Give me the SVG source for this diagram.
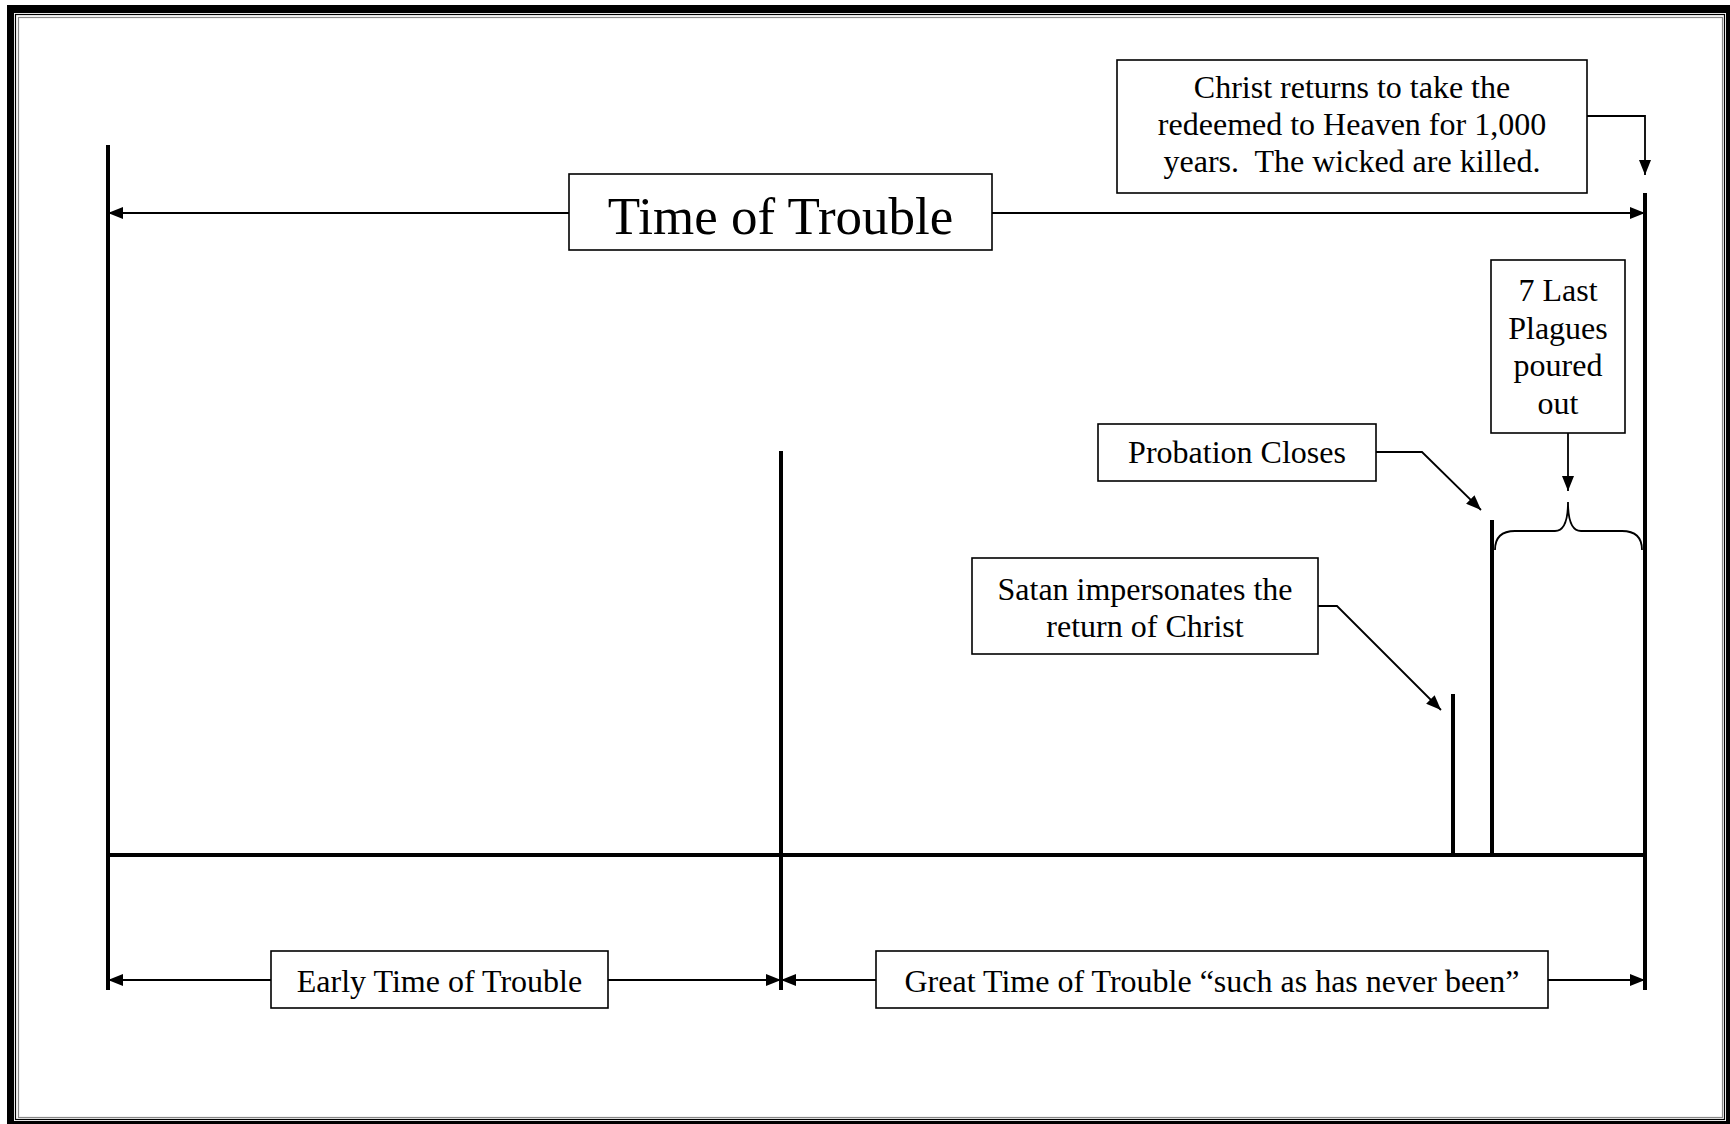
<svg xmlns="http://www.w3.org/2000/svg" width="1730" height="1124" viewBox="0 0 1730 1124">
<style>
.box{fill:#fff;stroke:#000;stroke-width:1.6}
.t{font-family:"Liberation Serif","Times New Roman",serif;font-size:32px;fill:#000;text-anchor:middle}
.big{font-size:53px}
.thick{stroke:#000;stroke-width:4;fill:none}
.thin{stroke:#000;stroke-width:1.8;fill:none}
</style>
<defs>
<marker id="ah" markerUnits="userSpaceOnUse" markerWidth="15" markerHeight="12" refX="15" refY="6" orient="auto-start-reverse">
<path d="M0,0 L15,6 L0,12 z" fill="#000"/>
</marker>
</defs>
<rect width="1730" height="1124" fill="#fff"/>
<g id="frame">
<path d="M7,5 H1730 V1124 H7 Z M14,13 V1121 H1726 V13 Z" fill="#000" fill-rule="evenodd"/>
<rect x="15.5" y="14.5" width="1709" height="1105" fill="none" stroke="#000" stroke-width="1.2"/>
<rect x="18.5" y="17.5" width="1704" height="1100" fill="none" stroke="#888" stroke-width="1.2"/>
</g>
<g id="timeline">
<line class="thick" x1="108" y1="145" x2="108" y2="990"/>
<line class="thick" x1="1645" y1="193" x2="1645" y2="990"/>
<line class="thick" x1="781" y1="451" x2="781" y2="990"/>
<line class="thick" x1="1453" y1="694" x2="1453" y2="855"/>
<line class="thick" x1="1492" y1="520" x2="1492" y2="855"/>
<line class="thick" x1="108" y1="855" x2="1645" y2="855"/>
</g>
<g id="connectors">
<line class="thin" x1="569" y1="213" x2="108" y2="213" marker-end="url(#ah)"/>
<line class="thin" x1="992" y1="213" x2="1645" y2="213" marker-end="url(#ah)"/>
<polyline class="thin" points="1587,116 1645,116 1645,175" marker-end="url(#ah)"/>
<line class="thin" x1="1568" y1="433" x2="1568" y2="491" marker-end="url(#ah)"/>
<polyline class="thin" points="1376,452 1422,452 1481,510" marker-end="url(#ah)"/>
<polyline class="thin" points="1318,606 1337,606 1441,710" marker-end="url(#ah)"/>
<line class="thin" x1="271" y1="980" x2="108" y2="980" marker-end="url(#ah)"/>
<line class="thin" x1="608" y1="980" x2="781" y2="980" marker-end="url(#ah)"/>
<line class="thin" x1="876" y1="980" x2="781" y2="980" marker-end="url(#ah)"/>
<line class="thin" x1="1548" y1="980" x2="1645" y2="980" marker-end="url(#ah)"/>
<path class="thin" d="M1495,550 Q1495,531 1515,531 H1555 Q1568,531 1568,502 Q1568,531 1581,531 H1622 Q1642,531 1642,550"/>
</g>
<g id="time-of-trouble">
<rect class="box" x="569" y="174" width="423" height="76"/>
<text class="t big" x="780.5" y="234">Time of Trouble</text>
</g>
<g id="christ-returns">
<rect class="box" x="1117" y="60" width="470" height="133"/>
<text class="t" x="1352" y="98">Christ returns to take the</text>
<text class="t" x="1352" y="135">redeemed to Heaven for 1,000</text>
<text class="t" x="1352" y="172">years.&#160; The wicked are killed.</text>
</g>
<g id="plagues">
<rect class="box" x="1491" y="260" width="134" height="173"/>
<text class="t" x="1558" y="301">7 Last</text>
<text class="t" x="1558" y="339">Plagues</text>
<text class="t" x="1558" y="376">poured</text>
<text class="t" x="1558" y="414">out</text>
</g>
<g id="probation">
<rect class="box" x="1098" y="424" width="278" height="57"/>
<text class="t" x="1237" y="463">Probation Closes</text>
</g>
<g id="satan">
<rect class="box" x="972" y="558" width="346" height="96"/>
<text class="t" x="1145" y="600">Satan impersonates the</text>
<text class="t" x="1145" y="637">return of Christ</text>
</g>
<g id="early">
<rect class="box" x="271" y="951" width="337" height="57"/>
<text class="t" x="439.5" y="992">Early Time of Trouble</text>
</g>
<g id="great">
<rect class="box" x="876" y="951" width="672" height="57"/>
<text class="t" x="1212" y="992">Great Time of Trouble “such as has never been”</text>
</g>
</svg>
